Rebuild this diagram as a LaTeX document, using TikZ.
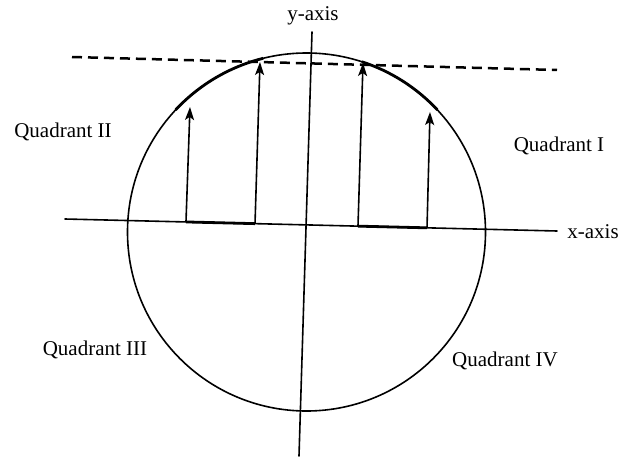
\documentclass[tikz,border=0pt]{standalone}
\usepackage{fontspec}
\setmainfont{Liberation Serif}
\usetikzlibrary{arrows.meta,calc}
\begin{document}
\begin{tikzpicture}[x=1pt,y=1pt,
  thinline/.style={line width=1.6pt,line cap=round},
  boldline/.style={line width=2.8pt},
  dashline/.style={line width=2.5pt,dash pattern=on 10pt off 6pt},
  uparrow/.style={line width=1.6pt,-{Stealth[length=13pt,width=9pt,inset=3pt]}},
  lbl/.style={inner sep=0pt,font=\fontsize{21}{24}\selectfont}]
\useasboundingbox (0,0) rectangle (621,459);
% coordinates
\coordinate (O) at (306.5,227);
\coordinate (xl) at (65,240);
\coordinate (xr) at (557,228);
\coordinate (yt) at (312,427);
\coordinate (yb) at (299,3);
\coordinate (dl) at (72,402);
\coordinate (dr) at (557,389);
\coordinate (b1) at ($(xl)!0.2459!(xr)$);
\coordinate (b2) at ($(xl)!0.3862!(xr)$);
\coordinate (b3) at ($(xl)!0.5955!(xr)$);
\coordinate (b4) at ($(xl)!0.7358!(xr)$);
\coordinate (t1) at (190,352);
\coordinate (t2) at (260,397);
\coordinate (t3) at (363,396);
\coordinate (t4) at (430,347);
% circle
\draw[thinline] (O) circle[radius=179];
\draw[boldline] ($(O)+(104:179)$) arc[start angle=104,end angle=137,radius=179];
\draw[boldline] ($(O)+(43:179)$) arc[start angle=43,end angle=72,radius=179];
% axes
\draw[thinline] (xl) -- (xr);
\draw[thinline] (yb) -- (yt);
\draw[boldline] (b1) -- (b2);
\draw[boldline] (b3) -- (b4);
% dashed tangent line
\draw[dashline] (dl) -- (dr);
% arrows
\draw[uparrow] (b1) -- (t1);
\draw[uparrow] (b2) -- (t2);
\draw[uparrow] (b3) -- (t3);
\draw[uparrow] (b4) -- (t4);
% labels
\node[lbl] (ylab) at (313,443) {y-axis};
\node[lbl] (xlab) at (593,227) {x-axis};
\node[lbl] (q1) at (559,313) {Quadrant I};
\node[lbl] (q2) at (63,327) {Quadrant II};
\node[lbl] (q3) at (95,109) {Quadrant III};
\node[lbl] (q4) at (505,98) {Quadrant IV};
\end{tikzpicture}
\end{document}
